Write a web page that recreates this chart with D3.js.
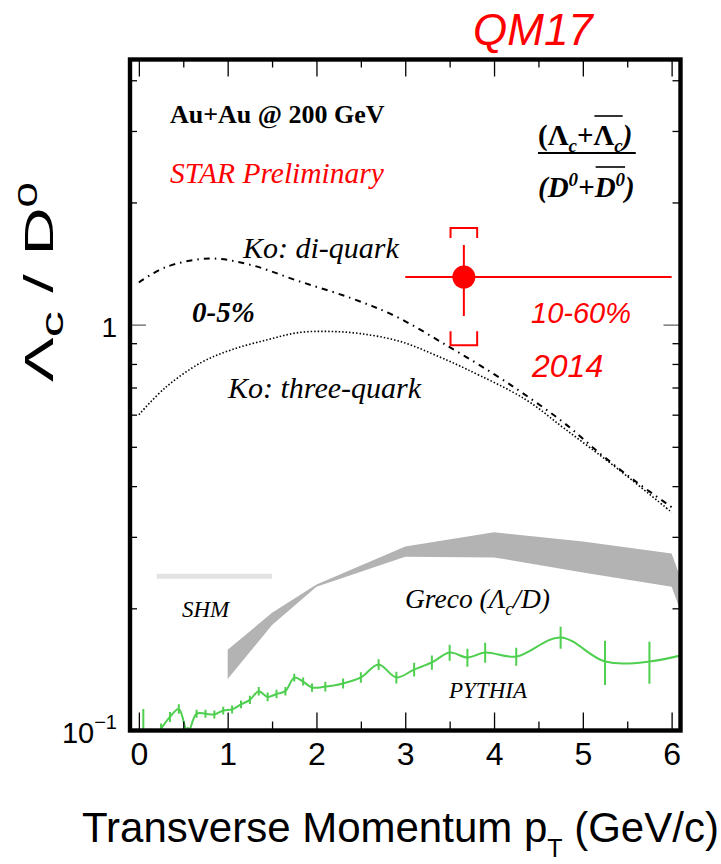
<!DOCTYPE html>
<html>
<head>
<meta charset="utf-8">
<script src="https://cdn.jsdelivr.net/npm/d3@7"></script>
<style>
body { margin: 0; background: #fff; }
svg text { font-family: "Liberation Sans", Arial, sans-serif; }
svg text.serif { font-family: "Liberation Serif", "Times New Roman", serif; }
</style>
</head>
<body>
<svg id="chart" width="721" height="864"></svg>
<script>
// ---- data ----
const xMajor = [0, 1, 2, 3, 4, 5, 6];
const xMinor = [0.5, 1.5, 2.5, 3.5, 4.5, 5.5];
const yMinor = [0.2, 0.3, 0.4, 0.5, 0.6, 0.7, 0.8, 0.9, 2, 3, 4];
const yMajor = [1];

// Ko di-quark / three-quark curves
const diquarkPt  = [0, 0.3, 0.8, 1.25, 1.8, 2.4, 2.9, 3.5, 4.0, 4.4, 4.8, 5.2, 5.6, 6.0];
const diquarkVal = [1.27, 1.385, 1.455, 1.405, 1.28, 1.16, 1.046, 0.88, 0.755, 0.66, 0.57, 0.48, 0.41, 0.355];
const threePt  = [0, 0.3, 0.7, 1.05, 1.45, 1.8, 2.15, 2.5, 2.95, 3.4, 3.7, 4.35, 4.8, 5.4, 6.0];
const threeVal = [0.60, 0.70, 0.806, 0.868, 0.918, 0.956, 0.962, 0.95, 0.908, 0.83, 0.775, 0.655, 0.553, 0.44, 0.345];

// Greco band
const grecoPt = [1.0, 1.5, 2.0, 3.0, 4.0, 5.0, 6.0, 6.3];
const grecoLo = [0.134, 0.182, 0.226, 0.268, 0.267, 0.245, 0.226, 0.15];
const grecoHi = [0.158, 0.195, 0.229, 0.284, 0.308, 0.292, 0.273, 0.18];

// SHM
const shmPt = [0.2, 1.5];
const shmVal = [0.24, 0.24];

// PYTHIA
const pythiaPt  = [0.05, 0.15, 0.25, 0.35, 0.45, 0.55, 0.65, 0.75, 0.85, 0.95, 1.05, 1.15, 1.25, 1.35, 1.45, 1.55, 1.65, 1.75, 1.85, 1.95,
                   2.1, 2.3, 2.5, 2.7, 2.9, 3.1, 3.3, 3.5, 3.7, 3.9, 4.25, 4.75, 5.25, 5.75, 6.25];
const pythiaVal = [0.095, 0.093, 0.101, 0.108, 0.113, 0.099, 0.110, 0.110, 0.1095, 0.112, 0.1127, 0.116, 0.119, 0.125, 0.121, 0.123, 0.125, 0.135, 0.132, 0.1276,
                   0.1283, 0.1306, 0.1351, 0.1454, 0.1351, 0.1413, 0.1471, 0.1556, 0.1513, 0.1556, 0.1521, 0.1695, 0.1479, 0.1479, 0.156];
const pythiaErr = [0.018, 0.006, 0.003, 0.003, 0.003, 0.003, 0.0025, 0.0025, 0.0025, 0.0025, 0.0025, 0.0025, 0.0028, 0.003, 0.003, 0.003, 0.003, 0.003, 0.003, 0.003,
                   0.0035, 0.0037, 0.004, 0.0045, 0.0045, 0.0055, 0.006, 0.007, 0.0078, 0.0088, 0.0078, 0.0106, 0.0185, 0.0176, 0.02];

// STAR measurement (10-60%)
const lcPt = [3.66];
const lcPtLo = [3.0];
const lcPtHi = [6.0];
const lcVal = [1.31];
const lcStat = [0.26];
const lcSys = [0.42];

// ---- setup ----
const svg = d3.select("#chart");
const frame = { left: 130, right: 680.5, top: 59.5, bottom: 730.5 };

const x = d3.scaleLinear().domain([-0.1, 6.1]).range([frame.left, frame.right]);
const y = d3.scaleLog().domain([0.1, 4.5]).range([frame.bottom, frame.top]);

svg.append("clipPath").attr("id", "clip")
   .append("rect")
   .attr("x", frame.left).attr("y", frame.top)
   .attr("width", frame.right - frame.left).attr("height", frame.bottom - frame.top);

const plot = svg.append("g").attr("clip-path", "url(#clip)");

// Greco band
const grecoData = grecoPt.map((p, i) => ({ p: p, lo: grecoLo[i], hi: grecoHi[i] }));
plot.append("path")
    .datum(grecoData)
    .attr("fill", "#b3b3b3")
    .attr("d", d3.area().x(d => x(d.p)).y0(d => y(d.lo)).y1(d => y(d.hi)));

// SHM
plot.append("path")
    .datum(shmPt.map((p, i) => [p, shmVal[i]]))
    .attr("fill", "none")
    .attr("stroke", "#e3e3e3")
    .attr("stroke-width", 5)
    .attr("d", d3.line().x(d => x(d[0])).y(d => y(d[1])));

// Ko curves
const smooth = d3.line().curve(d3.curveCatmullRom).x(d => x(d[0])).y(d => y(d[1]));
plot.append("path")
    .datum(diquarkPt.map((p, i) => [p, diquarkVal[i]]))
    .attr("fill", "none").attr("stroke", "#000").attr("stroke-width", 2)
    .attr("stroke-dasharray", "6,5,1.5,5")
    .attr("d", smooth);
plot.append("path")
    .datum(threePt.map((p, i) => [p, threeVal[i]]))
    .attr("fill", "none").attr("stroke", "#000").attr("stroke-width", 1.6)
    .attr("stroke-dasharray", "1.5,2")
    .attr("d", smooth);

// PYTHIA
const green = "#4fcf4f";
plot.append("path")
    .datum(pythiaPt.map((p, i) => [p, pythiaVal[i]]))
    .attr("fill", "none").attr("stroke", green).attr("stroke-width", 2)
    .attr("d", smooth);
plot.selectAll("line.pyerr")
    .data(pythiaPt.map((p, i) => ({ p: p, v: pythiaVal[i], e: pythiaErr[i] })))
    .join("line")
    .attr("class", "pyerr")
    .attr("x1", d => x(d.p)).attr("x2", d => x(d.p))
    .attr("y1", d => y(d.v - d.e)).attr("y2", d => y(d.v + d.e))
    .attr("stroke", green).attr("stroke-width", 2);

// STAR point
const red = "#ff0000";
const lc = lcPt.map((p, i) => ({ p: p, lo: lcPtLo[i], hi: lcPtHi[i], v: lcVal[i], stat: lcStat[i], sys: lcSys[i] }));
lc.forEach(d => {
  const cx = x(d.p), cy = y(d.v);
  plot.append("line").attr("x1", x(d.lo)).attr("x2", x(d.hi)).attr("y1", cy).attr("y2", cy)
      .attr("stroke", red).attr("stroke-width", 2);
  plot.append("line").attr("x1", cx).attr("x2", cx).attr("y1", y(d.v - d.stat)).attr("y2", y(d.v + d.stat))
      .attr("stroke", red).attr("stroke-width", 2);
  const hw = x(d.p + 0.15) - cx;
  const yt = y(d.v + d.sys), yb = y(d.v - d.sys);
  plot.append("path")
      .attr("d", `M${cx - hw},${yt + 10}V${yt}H${cx + hw}V${yt + 10}M${cx - hw},${yb - 14}V${yb}H${cx + hw}V${yb - 14}`)
      .attr("fill", "none").attr("stroke", red).attr("stroke-width", 2);
  plot.append("circle").attr("cx", cx).attr("cy", cy).attr("r", 11.5).attr("fill", red);
});

// ---- axes (ticks on all four sides) ----
function tickRow(axisGen, transform, vals, size, color) {
  svg.append("g")
     .attr("transform", transform)
     .call(axisGen.tickValues(vals).tickSize(size).tickFormat(""))
     .call(g => g.select(".domain").remove())
     .selectAll("line").attr("stroke", color).attr("stroke-width", 1.3);
}
tickRow(d3.axisBottom(x), `translate(0,${frame.bottom})`, xMajor, -18, "#000");
tickRow(d3.axisBottom(x), `translate(0,${frame.bottom})`, xMinor, -9, "#000");
tickRow(d3.axisTop(x), `translate(0,${frame.top})`, xMajor, -17, "#000");
tickRow(d3.axisTop(x), `translate(0,${frame.top})`, xMinor, -8, "#000");
tickRow(d3.axisLeft(y), `translate(${frame.left},0)`, yMinor, -7, "#000");
tickRow(d3.axisLeft(y), `translate(${frame.left},0)`, yMajor, -16, "#666");
tickRow(d3.axisRight(y), `translate(${frame.right},0)`, yMinor, -8, "#000");
tickRow(d3.axisRight(y), `translate(${frame.right},0)`, yMajor, -17, "#666");

// x labels
svg.append("g")
   .attr("transform", `translate(0,${frame.bottom})`)
   .call(d3.axisBottom(x).tickValues(xMajor).tickSize(0).tickPadding(12).tickFormat(d3.format("d")))
   .call(g => g.select(".domain").remove())
   .selectAll("text")
   .attr("fill", "#000")
   .style("font-size", "32px")
   .style("font-family", "'Liberation Sans', Arial, sans-serif");

// y labels
svg.append("text").attr("x", 117).attr("y", y(1) + 12)
   .attr("text-anchor", "end").style("font-size", "28px").text("1");
const tenth = svg.append("text").attr("x", 117).attr("y", y(0.1) + 12.5)
   .attr("text-anchor", "end").style("font-size", "29px");
tenth.append("tspan").text("10");
tenth.append("tspan").attr("dy", -14).style("font-size", "20px").text("\u22121");

// frame
svg.append("rect")
   .attr("x", frame.left).attr("y", frame.top)
   .attr("width", frame.right - frame.left).attr("height", frame.bottom - frame.top)
   .attr("fill", "none").attr("stroke", "#000").attr("stroke-width", 4.4);

// axis titles
const xt = svg.append("text").attr("x", 82).attr("y", 842)
   .style("font-size", "42px");
xt.append("tspan").text("Transverse Momentum p");
xt.append("tspan").attr("dy", 15).style("font-size", "25px").text("T");
xt.append("tspan").attr("dy", -15).text(" (GeV/c)");

const yt = svg.append("text")
   .attr("transform", "translate(53,282) rotate(-90)")
   .attr("text-anchor", "middle")
   .attr("textLength", 200).attr("lengthAdjust", "spacingAndGlyphs")
   .style("font-size", "41px");
yt.append("tspan").text("\u039B");
yt.append("tspan").attr("dy", 10).style("font-size", "32px").text("c");
yt.append("tspan").attr("dy", -10).text(" / D");
yt.append("tspan").attr("dy", -16).style("font-size", "28px").text("0");

// ---- annotations ----
svg.append("text").attr("x", 473).attr("y", 45)
   .style("font-size", "44px").style("font-style", "italic").attr("fill", red).text("QM17");

function serifText(tx, ty, size, txt, opts) {
  opts = opts || {};
  return svg.append("text").attr("class", "serif")
     .attr("x", tx).attr("y", ty)
     .style("font-size", size + "px")
     .style("font-style", opts.italic === false ? "normal" : "italic")
     .style("font-weight", opts.bold ? "bold" : "normal")
     .attr("fill", opts.fill || "#000")
     .text(txt);
}
serifText(170, 123, 26, "Au+Au @ 200 GeV", { italic: false, bold: true });
serifText(170, 183, 29.5, "STAR Preliminary", { fill: red });
serifText(243, 258, 30, "Ko: di-quark");
serifText(192, 322, 29, "0-5%", { bold: true });
serifText(228, 398, 30, "Ko: three-quark");
serifText(182, 617, 23, "SHM");
serifText(449, 698, 23, "PYTHIA");

const gr = serifText(405, 608, 27.5, "Greco (\u039B");
gr.append("tspan").attr("dy", 7).style("font-size", "18px").text("c");
gr.append("tspan").attr("dy", -7).text("/D)");

svg.append("text").attr("x", 531).attr("y", 323)
   .style("font-size", "29px").style("font-style", "italic").attr("fill", red).text("10-60%");
svg.append("text").attr("x", 532).attr("y", 377)
   .style("font-size", "32px").style("font-style", "italic").attr("fill", red).text("2014");

// ratio definition
const num = serifText(538, 145, 29, "", { italic: false, bold: true });
num.append("tspan").text("(\u039B");
num.append("tspan").attr("dy", 7).style("font-size", "19px").style("font-style", "italic").text("c");
num.append("tspan").attr("dy", -7).text("+");
num.append("tspan").text("\u039B");
num.append("tspan").attr("dy", 7).style("font-size", "19px").style("font-style", "italic").text("c");
num.append("tspan").attr("dy", -7).style("font-style", "italic").text(")");

const den = serifText(538, 197, 29, "", { bold: true });
den.append("tspan").text("(D");
den.append("tspan").attr("dy", -11).style("font-size", "19px").text("0");
den.append("tspan").attr("dy", 11).text("+");
den.append("tspan").text("D");
den.append("tspan").attr("dy", -11).style("font-size", "19px").text("0");
den.append("tspan").attr("dy", 11).text(")");

// fraction bar and overlines
const numBox = num.node().getBBox(), denBox = den.node().getBBox();
svg.append("line")
   .attr("x1", 538).attr("x2", Math.max(numBox.x + numBox.width, denBox.x + denBox.width) + 1)
   .attr("y1", 153).attr("y2", 153).attr("stroke", "#000").attr("stroke-width", 1.8);
function overline(textSel, charStart, charEnd, ly) {
  const n = textSel.node();
  const a = n.getExtentOfChar(charStart), b = n.getExtentOfChar(charEnd);
  svg.append("line").attr("x1", a.x + 1).attr("x2", b.x + b.width)
     .attr("y1", ly).attr("y2", ly).attr("stroke", "#000").attr("stroke-width", 1.6);
}
overline(num, 4, 5, 116);
overline(den, 4, 5, 167);
</script>
</body>
</html>
